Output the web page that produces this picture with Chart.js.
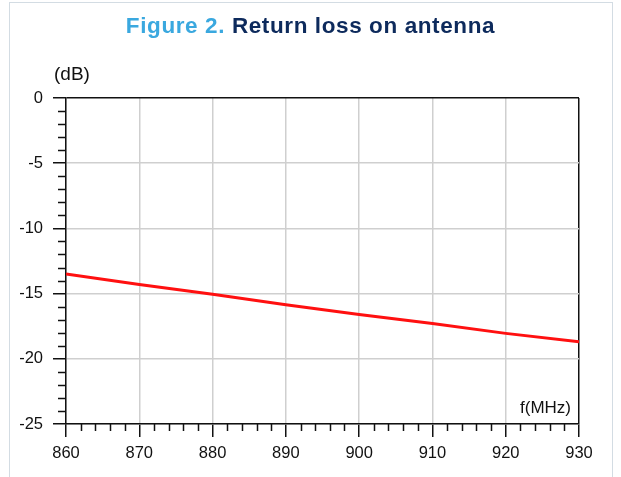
<!DOCTYPE html>
<html>
<head>
<meta charset="utf-8">
<script src="https://cdn.jsdelivr.net/npm/chart.js@4.4.1/dist/chart.umd.min.js"></script>
<style>
  html, body { margin: 0; padding: 0; background: #fff; }
  #wrap { position: relative; width: 621px; height: 477px; overflow: hidden; }
  #frame { position: absolute; left: 9px; top: 2px; width: 604px; height: 490px;
           border: 1.5px solid #d3dce3; box-sizing: border-box; }
  #chart { position: absolute; left: 0; top: 0; }
  .lbl { position: absolute; font-family: Arial, "Liberation Sans", sans-serif; color: #111; white-space: nowrap; }
  #title { left: 0; width: 621px; top: 13px; text-align: center; font-size: 22.5px; font-weight: bold; letter-spacing: 0.6px; }
  #title .fig { color: #3aa8df; }
  #title .txt { color: #0d2a5c; }
  #yname { left: 54px; top: 63px; font-size: 19px; }
  #xname { left: 520px; top: 398px; font-size: 17px; }
</style>
</head>
<body>
<div id="wrap">
  <div id="frame"></div>
  <canvas id="chart" width="621" height="477"></canvas>
  <div id="title" class="lbl"><span class="fig">Figure 2.</span> <span class="txt">Return loss on antenna</span></div>
  <div id="yname" class="lbl">(dB)</div>
  <div id="xname" class="lbl">f(MHz)</div>
</div>
<script>
// Return loss read at every 10 MHz
const freqs = [860, 870, 880, 890, 900, 910, 920, 930];
const returnLoss = [-13.5, -14.3, -15.05, -15.85, -16.6, -17.3, -18.05, -18.7];

const xTicks = [860, 870, 880, 890, 900, 910, 920, 930];
const yTicks = [0, -5, -10, -15, -20, -25];

Chart.defaults.font.family = 'Arial, "Liberation Sans", sans-serif';
Chart.defaults.color = '#111';

// small ticks between the labelled ones: 1 dB on y, 2 MHz on x
const minorTicks = {
  id: 'minorTicks',
  afterDraw(chart) {
    const ctx = chart.ctx;
    const xs = chart.scales.x, ys = chart.scales.y;
    const area = chart.chartArea;
    ctx.save();
    ctx.strokeStyle = '#111';
    ctx.lineWidth = 1.5;
    ctx.beginPath();
    for (let v = ys.min; v <= ys.max; v++) {
      if (v % 5 === 0) continue;
      const py = Math.round(ys.getPixelForValue(v)) + 0.5;
      ctx.moveTo(area.left - 8, py);
      ctx.lineTo(area.left, py);
    }
    for (let v = xs.min; v <= xs.max; v += 2) {
      if (v % 10 === 0) continue;
      const px = Math.round(xs.getPixelForValue(v)) + 0.5;
      ctx.moveTo(px, area.bottom);
      ctx.lineTo(px, area.bottom + 7);
    }
    ctx.stroke();
    ctx.restore();
  }
};

const ctx = document.getElementById('chart').getContext('2d');
const chart = new Chart(ctx, {
  type: 'line',
  data: {
    datasets: [{
      data: freqs.map((f, i) => ({ x: f, y: returnLoss[i] })),
      borderColor: '#ff1010',
      borderWidth: 3,
      pointRadius: 0,
      tension: 0
    }]
  },
  options: {
    responsive: false,
    animation: false,
    layout: { padding: { left: 0, top: 98, right: 42, bottom: 0 } },
    plugins: { legend: { display: false }, tooltip: { enabled: false } },
    scales: {
      x: {
        type: 'linear',
        min: 860,
        max: 930,
        afterBuildTicks: s => { s.ticks = xTicks.map(v => ({ value: v })); },
        afterFit: s => { s.height = 53; },
        ticks: { font: { size: 16.5 }, color: '#111', padding: 7, maxRotation: 0 },
        grid: {
          tickLength: 13,
          lineWidth: 1.5,
          tickColor: '#111',
          color: c => (c.tick.value === 930 ? '#111' : '#cfcfcf')
        },
        border: { color: '#111', width: 1.5 }
      },
      y: {
        min: -25,
        max: 0,
        afterBuildTicks: s => { s.ticks = yTicks.map(v => ({ value: v })); },
        afterFit: s => { s.width = 66; },
        ticks: { font: { size: 16.5 }, color: '#111', padding: 10 },
        grid: {
          tickLength: 13,
          lineWidth: 1.5,
          tickColor: '#111',
          color: c => (c.tick.value === 0 ? '#111' : '#cfcfcf')
        },
        border: { color: '#111', width: 1.5 }
      }
    }
  },
  plugins: [minorTicks]
});
</script>
</body>
</html>
